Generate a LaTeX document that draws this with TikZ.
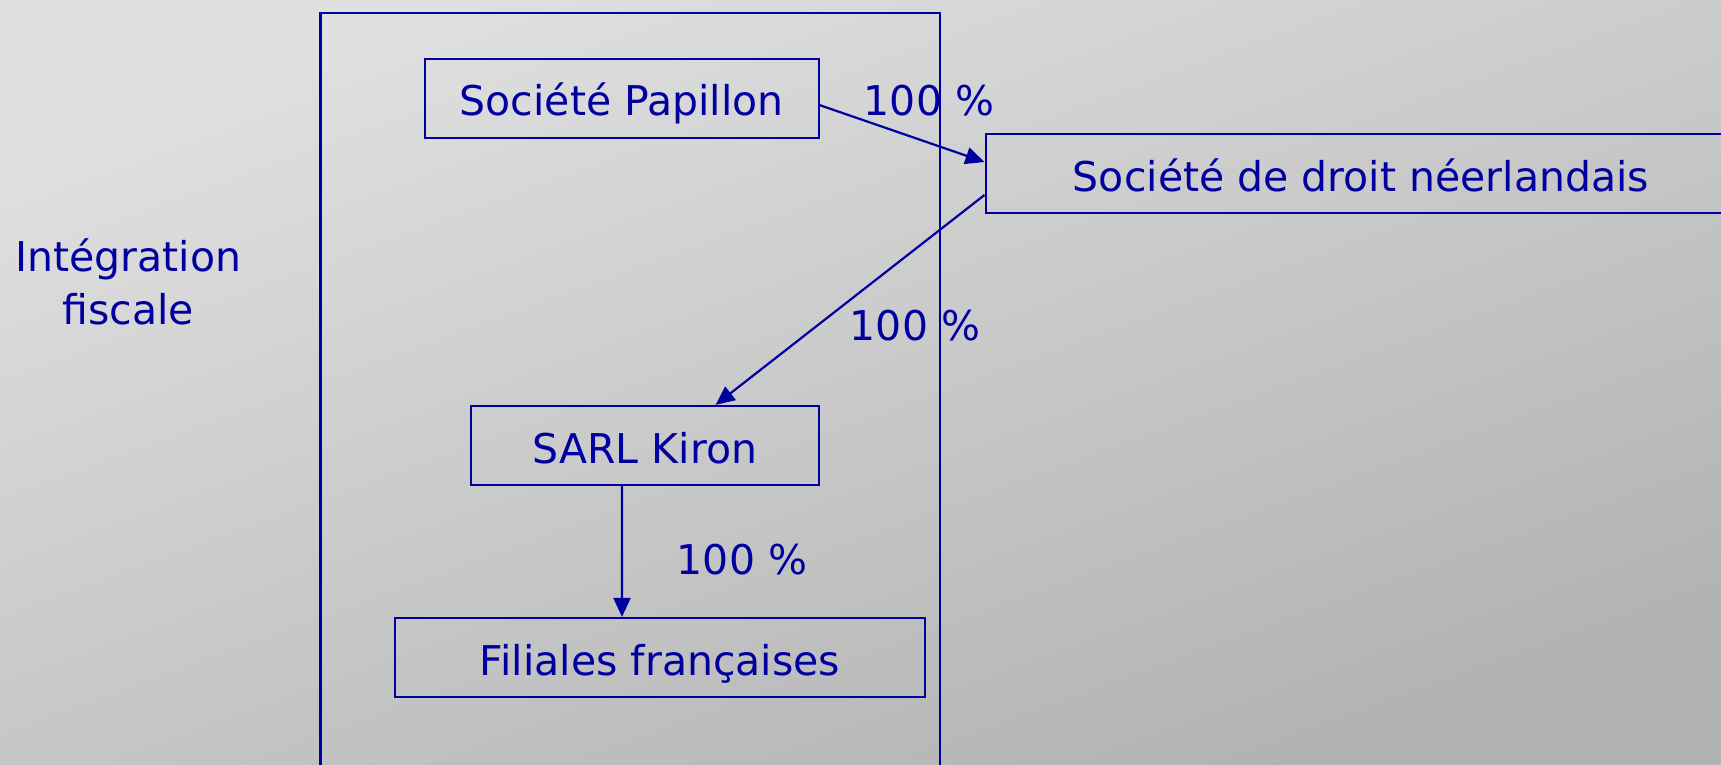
\documentclass[tikz,border=0pt]{standalone}
\usepackage{fontspec}
\setmainfont{DejaVu Sans}
\usetikzlibrary{arrows.meta}
\definecolor{dblue}{RGB}{0,0,160}
\definecolor{bglight}{RGB}{224,224,224}
\definecolor{bgdark}{RGB}{178,178,178}
\tikzset{
  txt/.style={text=dblue, font=\fontsize{41}{53}\selectfont, inner sep=0pt},
  boxnode/.style={txt, draw=dblue, line width=2.2pt, minimum height=79pt, text height=35.4pt, text depth=0pt},
  conn/.style={draw=dblue, line width=2.2pt, -{Triangle[length=19pt,width=17pt]}},
}
\begin{document}
\begin{tikzpicture}[x=1pt,y=-1pt]
\useasboundingbox (0,0) rectangle (1721,765);
\shade[top color=bglight, bottom color=bgdark, shading angle=20] (0,0) rectangle (1721,765);
% big frame, open at the bottom
\draw[dblue, line width=2.2pt] (320.5,800) -- (320.5,13.2) -- (939.6,13.2) -- (939.6,800);
% nodes
\node[boxnode, minimum width=394pt] (pap) at (621.8,98.2) {Société Papillon};
\node[boxnode, minimum width=750.8pt] (ned) at (1361,173.5) {Société de droit néerlandais};
\node[boxnode, minimum width=348pt] (kir) at (644.9,445.5) {SARL Kiron};
\node[boxnode, minimum width=530pt] (fil) at (660,657.5) {Filiales françaises};
\node[txt, align=center] (integ) at (128.4,282) {Intégration\\fiscale};
% labels
\node[txt] (l1) at (929,101) {100 \%};
\node[txt] (l2) at (915,326) {100 \%};
\node[txt] (l3) at (742,560) {100 \%};
% connectors
\draw[conn] ([yshift=-7pt]pap.east) -- ([yshift=11.5pt]ned.west);
\draw[conn] ([yshift=-21.5pt]ned.west) -- ([xshift=70.7pt]kir.north);
\draw[conn] ([xshift=-23pt]kir.south) -- ([xshift=-38pt]fil.north);
\end{tikzpicture}
\end{document}
